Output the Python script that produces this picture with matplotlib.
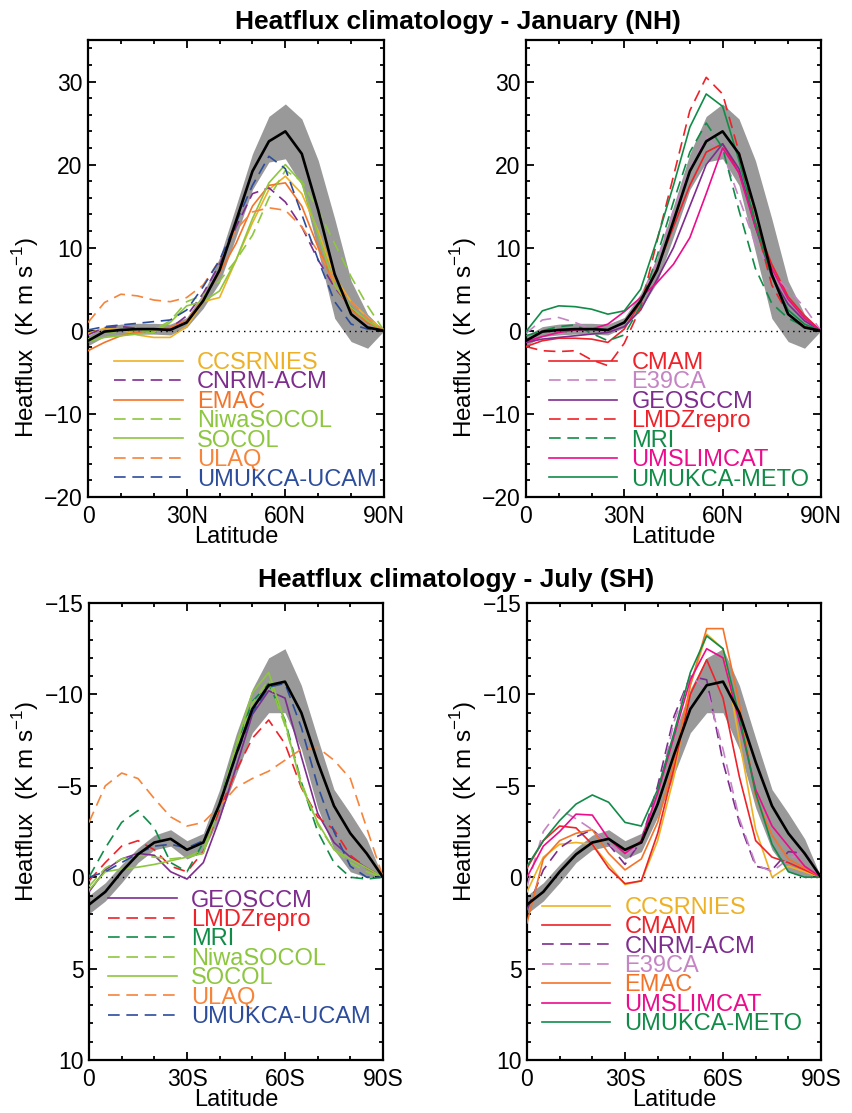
import matplotlib
matplotlib.use('Agg')
import matplotlib.pyplot as plt
from matplotlib.ticker import MultipleLocator, FixedLocator, FixedFormatter

plt.rcParams['font.family'] = ['Liberation Sans', 'DejaVu Sans']
plt.rcParams['mathtext.fontset'] = 'custom'
plt.rcParams['mathtext.rm'] = 'Liberation Sans'

# latitude grid (degrees from equator)
lat = [0, 5, 10, 15, 20, 25, 30, 35, 40, 45, 50, 55, 60, 65, 70, 75, 80, 85, 90]

# ---- January (NH), K m s-1 ----
jan_obs = [-1.2, -0.1, 0.1, 0.2, 0.2, 0.1, 1.0, 3.6, 7.3, 13.2, 19.2, 22.8, 24.0, 21.3, 14.5, 6.8, 2.0, 0.4, 0.0]
jan_obs_hi = [-0.6, 0.5, 0.8, 0.9, 0.9, 0.8, 1.6, 4.5, 8.8, 15.0, 21.3, 25.8, 27.3, 25.5, 20.5, 13.5, 6.0, 2.0, 0.0]
jan_obs_lo = [-1.8, -0.7, -0.5, -0.4, -0.4, -0.5, 0.4, 2.7, 5.8, 11.3, 17.0, 20.3, 20.7, 17.5, 9.5, 1.5, -1.3, -2.1, 0.0]

jan_ccsrnies = [-0.3, 0.3, 0.1, -0.5, -0.8, -0.8, 0.5, 3.5, 4.0, 8.5, 13.0, 17.0, 18.6, 16.5, 12.0, 6.5, 3.5, 1.6, 0.0]
jan_cnrm = [-0.5, 0.4, 0.5, 0.3, 0.1, 0.3, 1.8, 4.5, 8.0, 12.5, 16.5, 17.2, 15.5, 12.5, 8.5, 5.2, 2.8, 1.0, 0.0]
jan_emac = [-2.4, -1.4, -0.6, -0.2, 0.1, 0.4, 1.2, 3.8, 7.0, 10.5, 15.0, 17.5, 17.8, 15.0, 10.0, 5.5, 2.5, 1.0, 0.0]
jan_niwasocol = [-1.0, -0.3, 0.0, 0.0, 0.1, 1.2, 3.5, 4.3, 6.0, 8.5, 11.5, 16.0, 19.3, 18.0, 14.5, 10.5, 6.5, 3.0, 0.0]
jan_socol = [-1.3, -0.8, -0.6, -0.4, -0.2, 1.0, 3.0, 3.5, 4.8, 8.5, 13.5, 17.8, 20.0, 17.8, 11.5, 5.5, 2.8, 1.2, 0.0]
jan_ulaq = [1.0, 3.4, 4.4, 4.2, 3.7, 3.5, 4.0, 5.5, 8.5, 12.2, 14.3, 14.8, 14.5, 12.5, 9.5, 6.0, 3.5, 1.5, 0.0]
jan_ucam = [0.1, 0.5, 0.7, 0.9, 1.1, 1.3, 2.5, 5.3, 8.5, 13.0, 17.5, 21.0, 19.5, 14.0, 8.5, 3.5, 0.8, 0.2, 0.0]
jan_cmam = [-1.9, -1.2, -0.9, -0.9, -1.0, -1.4, 0.2, 3.5, 7.5, 12.5, 17.5, 21.5, 22.5, 19.0, 13.0, 8.0, 4.1, 1.8, 0.0]
jan_e39ca = [-0.3, 1.3, 1.6, 1.0, 0.2, 0.0, 0.8, 3.5, 8.5, 14.5, 19.5, 23.3, 21.5, 16.0, 10.5, 7.0, 5.0, 2.8, 0.0]
jan_geosccm = [-1.4, -1.0, -0.8, -0.6, -0.4, -0.2, 0.5, 2.5, 6.2, 10.0, 15.0, 20.0, 22.5, 19.5, 12.5, 6.5, 3.2, 1.2, 0.0]
jan_lmdz = [-1.9, -2.4, -2.5, -2.4, -3.5, -4.2, -1.5, 2.8, 10.8, 18.6, 26.5, 30.5, 28.5, 21.5, 13.0, 5.5, 2.0, 0.5, 0.0]
jan_mri = [-0.6, 0.0, 0.5, 0.7, -0.3, -1.2, -0.5, 3.0, 9.0, 15.5, 21.5, 25.0, 22.0, 14.5, 7.5, 3.3, 1.5, 0.5, 0.0]
jan_umslimcat = [-1.3, -0.7, -0.2, 0.1, 0.2, 0.8, 2.3, 4.0, 5.8, 8.0, 11.2, 16.5, 22.0, 19.0, 12.5, 7.5, 3.8, 1.5, 0.0]
jan_meto = [-0.1, 2.4, 3.0, 2.9, 2.6, 2.0, 2.4, 5.0, 11.0, 17.5, 24.5, 28.5, 27.0, 20.5, 13.0, 6.5, 2.5, 0.8, 0.0]

# ---- July (SH), K m s-1 ----
jul_obs = [1.5, 0.8, -0.3, -1.25, -1.9, -2.1, -1.5, -1.9, -4.0, -6.7, -9.2, -10.5, -10.7, -9.0, -6.3, -3.9, -2.4, -1.3, 0.0]
jul_obs_hi = [1.0, 0.3, -0.7, -1.6, -2.3, -2.6, -2.0, -2.4, -4.8, -7.8, -10.3, -12.0, -12.5, -10.5, -7.6, -4.8, -3.5, -2.1, 0.0]
jul_obs_lo = [2.0, 1.3, 0.3, -0.8, -1.5, -1.7, -1.0, -1.4, -3.3, -5.6, -7.9, -9.0, -9.0, -7.0, -3.8, -1.5, -0.3, 0.0, 0.0]

jul_geosccm = [0.8, -0.4, -1.0, -1.3, -1.2, -0.3, 0.1, -0.8, -3.2, -6.0, -8.9, -10.2, -9.8, -6.6, -3.5, -1.9, -1.1, -0.5, 0.0]
jul_lmdz = [0.2, -0.8, -1.7, -2.0, -1.5, -0.6, -0.3, -1.4, -3.7, -5.8, -7.6, -8.6, -7.3, -4.9, -3.3, -2.6, -1.2, -0.5, 0.0]
jul_mri = [0.0, -1.6, -3.0, -3.65, -2.7, -0.8, -0.3, -1.9, -4.1, -7.2, -9.6, -10.6, -8.6, -5.2, -2.5, -0.8, 0.0, 0.1, 0.0]
jul_niwasocol = [0.5, -0.5, -1.0, -1.2, -1.1, -1.0, -1.1, -1.5, -4.0, -7.0, -9.5, -10.8, -8.3, -5.2, -2.9, -1.5, -0.8, -0.3, 0.0]
jul_socol = [0.7, -0.3, -0.45, -0.55, -0.7, -0.9, -1.1, -1.3, -4.0, -7.2, -10.1, -11.2, -8.5, -5.0, -3.0, -1.5, -1.0, -0.5, 0.0]
jul_ulaq = [-3.0, -5.0, -5.7, -5.4, -4.3, -3.3, -2.8, -3.0, -3.9, -4.9, -5.4, -5.8, -6.4, -7.0, -7.1, -6.4, -5.4, -2.7, 0.0]
jul_ucam = [0.0, -0.3, -0.8, -1.3, -1.7, -1.8, -1.6, -2.0, -4.0, -6.6, -9.0, -10.4, -10.6, -8.2, -5.0, -2.5, -0.6, 0.0, 0.0]
jul_ccsrnies = [0.8, -1.1, -1.8, -1.9, -1.8, -0.7, 0.4, 0.2, -2.0, -5.5, -10.5, -13.3, -12.5, -7.5, -2.6, 0.0, -0.6, -0.3, 0.0]
jul_cmam = [-0.5, -2.0, -2.8, -2.7, -1.8, -0.5, 0.35, 0.2, -2.4, -6.0, -10.0, -11.9, -9.8, -5.5, -2.0, -1.1, -0.8, -0.4, 0.0]
jul_cnrm = [1.8, -0.4, -1.6, -2.2, -2.6, -1.8, -0.7, -2.0, -5.0, -8.8, -11.0, -10.8, -6.3, -3.0, -0.6, -0.4, -1.4, -1.3, 0.0]
jul_e39ca = [0.5, -2.5, -3.7, -3.2, -2.6, -1.8, -1.2, -1.8, -4.5, -8.5, -11.0, -10.3, -7.0, -3.2, -0.7, -0.3, -1.0, -1.4, 0.0]
jul_emac = [2.5, -1.0, -2.0, -2.4, -2.6, -1.3, -0.4, -1.0, -3.0, -6.3, -10.5, -13.6, -13.6, -9.5, -4.4, -2.3, -1.0, -0.5, 0.0]
jul_umslimcat = [0.0, -1.7, -2.5, -3.45, -3.4, -2.1, -1.3, -2.0, -4.6, -7.7, -10.8, -12.5, -12.0, -8.5, -4.8, -2.8, -1.7, -0.6, 0.0]
jul_meto = [-0.6, -2.0, -3.1, -4.0, -4.5, -4.1, -3.0, -2.8, -4.8, -7.9, -11.2, -13.2, -12.5, -8.8, -4.6, -1.8, -0.3, 0.0, 0.0]

# model colours and line styles
styles = {
    'CCSRNIES': ('#EEB125', '-'),
    'CNRM-ACM': ('#7E2C8E', 'dash'),
    'EMAC': ('#F37329', '-'),
    'NiwaSOCOL': ('#8DC63F', 'dash'),
    'SOCOL': ('#8DC63F', '-'),
    'ULAQ': ('#F6843A', 'dash'),
    'UMUKCA-UCAM': ('#2C4C9C', 'dash'),
    'CMAM': ('#EE2229', '-'),
    'E39CA': ('#C584C3', 'dash'),
    'GEOSCCM': ('#7E2C8E', '-'),
    'LMDZrepro': ('#EE2229', 'dash'),
    'MRI': ('#118C48', 'dash'),
    'UMSLIMCAT': ('#EC0C8C', '-'),
    'UMUKCA-METO': ('#118C48', '-'),
}

panels = [
    # axes rect, obs, hi, lo, models, hemisphere, legend anchor, ylabel position
    ([0.1032, 0.5535, 0.347, 0.4106], jan_obs, jan_obs_hi, jan_obs_lo,
     [('CCSRNIES', jan_ccsrnies), ('CNRM-ACM', jan_cnrm), ('EMAC', jan_emac),
      ('NiwaSOCOL', jan_niwasocol), ('SOCOL', jan_socol), ('ULAQ', jan_ulaq),
      ('UMUKCA-UCAM', jan_ucam)], 'N', (0.088, 0.317), (-0.16, 0.35)),
    ([0.6166, 0.5535, 0.3458, 0.4106], jan_obs, jan_obs_hi, jan_obs_lo,
     [('CMAM', jan_cmam), ('E39CA', jan_e39ca), ('GEOSCCM', jan_geosccm),
      ('LMDZrepro', jan_lmdz), ('MRI', jan_mri), ('UMSLIMCAT', jan_umslimcat),
      ('UMUKCA-METO', jan_meto)], 'N', (0.078, 0.317), (-0.16, 0.35)),
    ([0.1043, 0.0476, 0.3447, 0.4106], jul_obs, jul_obs_hi, jul_obs_lo,
     [('GEOSCCM', jul_geosccm), ('LMDZrepro', jul_lmdz), ('MRI', jul_mri),
      ('NiwaSOCOL', jul_niwasocol), ('SOCOL', jul_socol), ('ULAQ', jul_ulaq),
      ('UMUKCA-UCAM', jul_ucam)], 'S', (0.065, 0.373), (-0.163, 0.567)),
    ([0.6178, 0.0476, 0.3447, 0.4106], jul_obs, jul_obs_hi, jul_obs_lo,
     [('CCSRNIES', jul_ccsrnies), ('CMAM', jul_cmam), ('CNRM-ACM', jul_cnrm),
      ('E39CA', jul_e39ca), ('EMAC', jul_emac), ('UMSLIMCAT', jul_umslimcat),
      ('UMUKCA-METO', jul_meto)], 'S', (0.051, 0.357), (-0.163, 0.567)),
]

fig = plt.figure(figsize=(8.53, 11.13), dpi=100)

for rect, obs, hi, lo, models, hemi, anchor, ylab_xy in panels:
    ax = fig.add_axes(rect)
    ax.fill_between(lat, lo, hi, color='#999999', lw=0, zorder=1)
    ax.axhline(0, color='k', lw=1.0, ls=(0, (1, 3)), zorder=2)
    for name, vals in models:
        col, ls = styles[name]
        if ls == 'dash':
            ls = (0, (7, 4))
        ax.plot(lat, vals, color=col, ls=ls, lw=1.2, label=name, zorder=3)
    ax.plot(lat, obs, color='k', lw=1.9, zorder=4)

    ax.set_xlim(0, 90)
    ax.xaxis.set_major_locator(FixedLocator([0, 30, 60, 90]))
    ax.xaxis.set_major_formatter(FixedFormatter(['0', '30' + hemi, '60' + hemi, '90' + hemi]))
    ax.xaxis.set_minor_locator(MultipleLocator(10))
    if hemi == 'N':
        ax.set_ylim(-20, 35)
        ax.yaxis.set_major_locator(MultipleLocator(10))
        ax.yaxis.set_minor_locator(MultipleLocator(2))
    else:
        ax.set_ylim(10, -15)
        ax.yaxis.set_major_locator(MultipleLocator(5))
        ax.yaxis.set_minor_locator(MultipleLocator(1))
    ax.tick_params(which='both', direction='in', top=True, right=True, width=1.3)
    ax.tick_params(which='major', length=6, labelsize=16.5)
    ax.tick_params(which='minor', length=3)
    ax.tick_params(axis='x', which='major', pad=6)
    ax.tick_params(axis='y', which='major', pad=4)
    for sp in ax.spines.values():
        sp.set_linewidth(1.6)
    ax.set_xlabel('Latitude', fontsize=17, labelpad=-2)
    ax.set_ylabel(r'Heatflux  (K m s$^{\mathrm{-1}}$)', fontsize=17.5)
    ax.yaxis.set_label_coords(*ylab_xy)

    ax.legend(loc='upper left', bbox_to_anchor=anchor, frameon=False,
              fontsize=17, handlelength=2.9, handletextpad=0.6,
              labelspacing=-0.11, borderpad=0, borderaxespad=0,
              labelcolor='linecolor')

fig.text(0.537, 0.980, 'Heatflux climatology - January (NH)', ha='center', va='center',
         fontsize=19, fontweight='bold')
fig.text(0.535, 0.479, 'Heatflux climatology - July (SH)', ha='center', va='center',
         fontsize=19, fontweight='bold')

fig.savefig('out.png', dpi=100)
